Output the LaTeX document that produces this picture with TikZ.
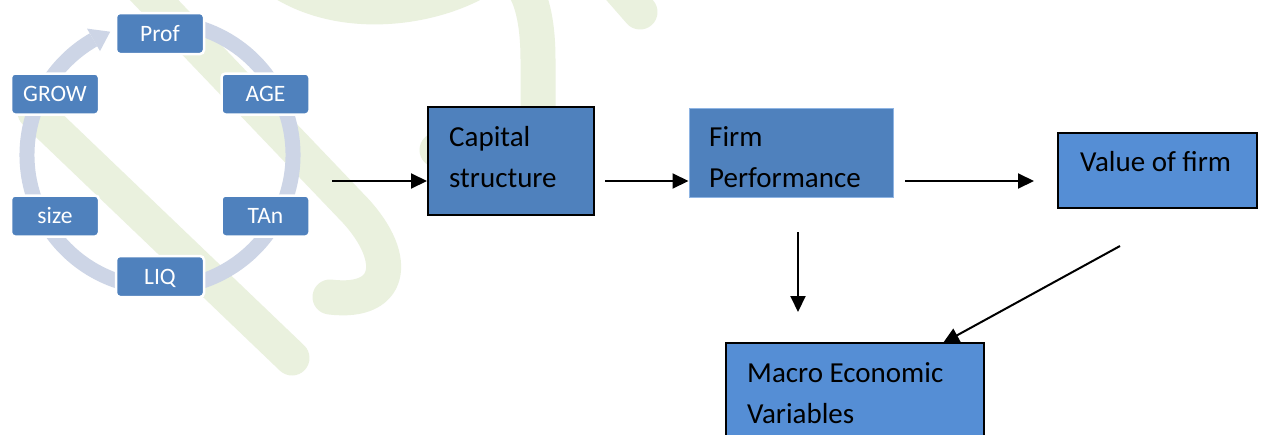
\documentclass[tikz,border=0pt]{standalone}
\usepackage{fontspec}
\setmainfont{Carlito}
\usetikzlibrary{arrows.meta}
\definecolor{nodeblue}{HTML}{4F81BD}
\definecolor{boxblue}{HTML}{558ED5}
\definecolor{ringgrey}{HTML}{CDD5E6}
\definecolor{markgreen}{HTML}{EAF1DE}
\definecolor{edgeblue}{HTML}{8EB4E3}
\begin{document}
\begin{tikzpicture}[x=1pt,y=1pt,yscale=-1,
  cyclebox/.style={fill=nodeblue, draw=white, line width=2.5pt, rounded corners=4pt,
    minimum width=88pt, minimum height=41pt, inner sep=0pt, text=white,
    text height=15pt, text depth=0pt, font=\fontsize{23.5}{28}\selectfont},
  bigbox/.style={fill=nodeblue, draw=black, line width=2pt, inner sep=0pt},
  boxtext/.style={font=\fontsize{29}{41}\selectfont, align=left, inner sep=0pt, anchor=base west},
  flow/.style={-{Triangle[length=16pt,width=15pt]}, line width=2pt, black}]
\useasboundingbox (0,0) rectangle (1261,434);
\fill[white] (0,0) rectangle (1261,434);

% faint background emblem
\begin{scope}
\clip (0,0) rectangle (1261,434);
\begin{scope}[draw=markgreen, line width=35pt, line cap=round, line join=round]
\draw (35,112) -- (292,358);
\draw (135,-20) -- (350,205) .. controls (400,255) and (395,305) .. (330,297);
\draw (265,-30) .. controls (330,25) and (430,10) .. (480,-20)
      .. controls (510,-40) and (538,-20) .. (538,60)
      -- (538,120) .. controls (538,150) and (480,150) .. (437,150);
\draw (612,-20) -- (640,12);
\end{scope}
\end{scope}

% cycle ring with its arrowhead
\draw[ringgrey, line width=15pt] (93.5,39.8) arc[start angle=-120, end angle=-468, radius=133];
\fill[ringgrey] (110.2,31.7) -- (100,51.1) -- (87,28.6) -- cycle;

% determinants on the cycle
\node[cyclebox] (prof) at (160,33.5) {Prof};
\node[cyclebox] (age)  at (265.5,94) {AGE};
\node[cyclebox] (tan)  at (265.5,216) {TAn};
\node[cyclebox] (liq)  at (160,276.5) {LIQ};
\node[cyclebox] (size) at (55,216) {size};
\node[cyclebox] (grow) at (55,94) {GROW};

% main boxes (text anchored on the baseline of the last line)
\node[bigbox, minimum width=166pt, minimum height=108pt] (cap) at (511,161) {};
\node[boxtext] (capT) at (449,187) {Capital\\structure};

\node[fill=nodeblue, draw=edgeblue, line width=1pt, inner sep=0pt,
      minimum width=204pt, minimum height=89pt] (firm) at (791,152.5) {};
\node[boxtext] (firmT) at (709,187) {Firm\\Performance};

\node[bigbox, fill=boxblue, minimum width=199pt, minimum height=75pt] (value) at (1157.5,170.5) {};
\node[boxtext] (valueT) at (1080,171.7) {Value of firm};

\node[bigbox, fill=boxblue, minimum width=258pt, minimum height=102pt] (macro) at (855,394) {};
\node[boxtext] (macroT) at (747,423) {Macro Economic\\Variables};

% connectors
\coordinate (s1) at (332,181);
\draw[flow] (s1) -- (s1 -| cap.west);
\coordinate (s2) at (605,181);
\draw[flow] (s2) -- (s2 -| firm.west);
\coordinate (s3) at (905,181);
\coordinate (e3) at (1034,181);
\draw[flow] (s3) -- (e3);
\coordinate (s4) at (798,232);
\coordinate (e4) at (798,312);
\draw[flow] (s4) -- (e4);
\coordinate (s5) at (1120,246);
\coordinate (e5) at (943,343);
\draw[flow] (s5) -- (e5);
\end{tikzpicture}
\end{document}
